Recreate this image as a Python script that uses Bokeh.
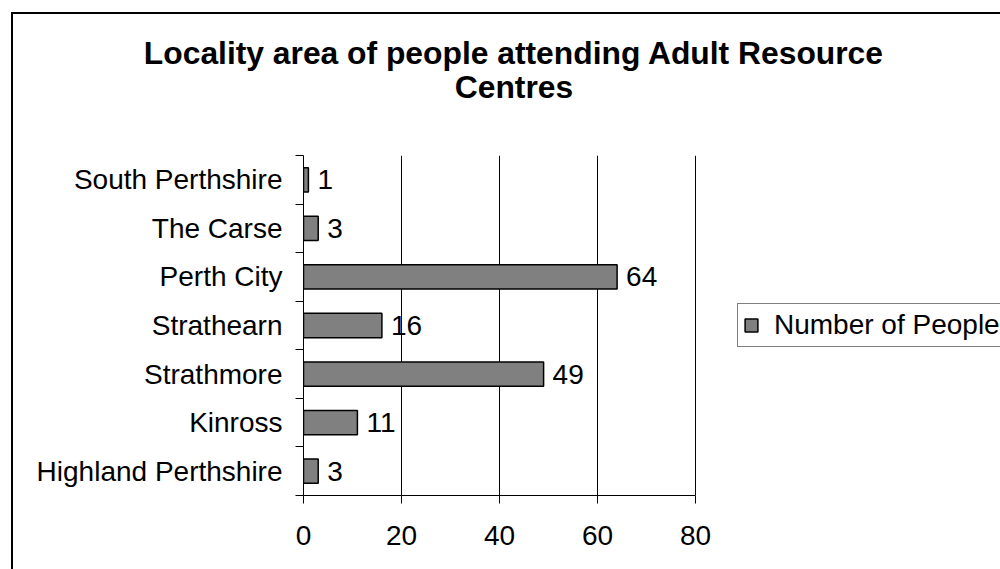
from bokeh.plotting import figure
from bokeh.models import (ColumnDataSource, Range1d, FixedTicker, Legend, LegendItem, Title)
from bokeh.core.properties import value
from bokeh.embed import file_html
from bokeh.resources import INLINE

# ---- data (top to bottom as shown) ----
categories = ["South Perthshire", "The Carse", "Perth City", "Strathearn",
              "Strathmore", "Kinross", "Highland Perthshire"]
people = [1, 3, 64, 16, 49, 11, 3]
x_ticks = [0, 20, 40, 60, 80]
title_lines = ["Locality area of people attending Adult Resource", "Centres"]
series_name = "Number of People"

FONT = "Liberation Sans"
FS = "28px"
n = len(categories)
ypos = [n - 0.5 - i for i in range(n)]
labels_map = {n - 0.5 - i: c for i, c in enumerate(categories)}

src = ColumnDataSource(dict(cat=categories, y=ypos, v=people,
                            txt=[str(v) for v in people]))

PX_PER_UNIT = 4.9
FW, FH = 421, 340
ML, MT = 290, 141
W, H = 987, 555
x_end = FW / PX_PER_UNIT

p = figure(width=W, height=H, frame_width=FW, frame_height=FH,
           min_border_left=ML, min_border_top=MT,
           min_border_right=W - ML - FW, min_border_bottom=H - MT - FH,
           x_range=Range1d(0, x_end), y_range=Range1d(0, n),
           output_backend="svg", toolbar_location=None,
           background_fill_color="white", border_fill_color="white")
p.outline_line_color = None
p.styles = {"border-left": "2px solid black", "border-top": "2px solid black",
            "margin-left": "11px", "margin-top": "12px"}

r = p.hbar(y="y", right="v", left=0, height=0.5, source=src,
           fill_color="#808080", line_color="black", line_width=1.5)

p.text(x="v", y="y", text="txt", source=src, x_offset=9,
       text_font=value(FONT), text_font_size=FS,
       text_baseline="middle", text_align="left", text_color="black")

# x axis
xa = p.xaxis[0]
xa.ticker = FixedTicker(ticks=x_ticks)
xa.bounds = (x_ticks[0], x_ticks[-1])
xa.axis_line_color = "black"
xa.axis_line_width = 1
xa.major_tick_in = 0
xa.major_tick_out = 8
xa.major_tick_line_color = "black"
xa.minor_tick_line_color = None
xa.major_label_text_font = FONT
xa.major_label_text_font_size = FS
xa.major_label_text_color = "black"
xa.major_label_standoff = 22

# y axis: labels at category centres, ticks at category boundaries
ya = p.yaxis[0]
ya.ticker = FixedTicker(ticks=ypos, minor_ticks=list(range(n + 1)))
ya.major_label_overrides = labels_map
ya.axis_line_color = "black"
ya.major_tick_in = 0
ya.major_tick_out = 0
ya.minor_tick_in = 0
ya.minor_tick_out = 8
ya.minor_tick_line_color = "black"
ya.major_label_text_font = FONT
ya.major_label_text_font_size = FS
ya.major_label_text_color = "black"
ya.major_label_standoff = 13

p.xgrid.ticker = FixedTicker(ticks=x_ticks)
p.xgrid.grid_line_color = "black"
p.xgrid.grid_line_width = 1
p.ygrid.grid_line_color = None

# title lines (first added = closer to plot); standoffs place them in the top band
for t, sto in ((title_lines[1], 102), (title_lines[0], -110)):
    p.add_layout(Title(text=t, align="center", standoff=sto,
                       text_font=FONT, text_font_size="31.8px",
                       text_font_style="bold", text_color="black"), "above")

leg = Legend(items=[LegendItem(label=series_name, renderers=[r])],
             location=(13, 148), orientation="vertical")
leg.label_text_font = FONT
leg.label_text_font_size = FS
leg.label_text_color = "black"
leg.border_line_color = "black"
leg.border_line_width = 1
leg.background_fill_color = "white"
leg.background_fill_alpha = 1
leg.glyph_width = 16
leg.glyph_height = 16
leg.label_standoff = 15
leg.padding = 5
leg.margin = 0
leg.spacing = 0
p.add_layout(leg, "right")

open("out.html", "w").write(file_html(p, INLINE))
